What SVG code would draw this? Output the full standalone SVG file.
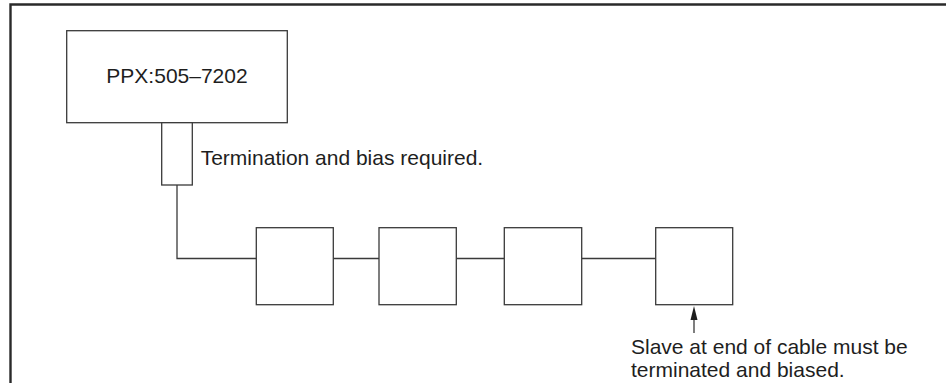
<svg xmlns="http://www.w3.org/2000/svg" width="946" height="383" viewBox="0 0 946 383">
<style>
.frame{fill:none;stroke:#2a2a2a;stroke-width:2.4}
.box{fill:#fff;stroke:#3a3a3a;stroke-width:1.3}
.wire{fill:none;stroke:#3a3a3a;stroke-width:1.3}
.lbl{font-family:"Liberation Sans",Arial,sans-serif;font-size:21px;fill:#1e1e1e}
</style>
<defs>
<marker id="ah" markerWidth="8" markerHeight="15" refX="4" refY="0.5" orient="auto" markerUnits="userSpaceOnUse" viewBox="0 0 8 15">
<path d="M0,14 L4,0 L8,14 Z" fill="#1e1e1e"/>
</marker>
</defs>
<path class="frame" d="M10.5,383 V4.5 H946"/>
<g id="connectors">
<path class="wire" d="M177,185 V258.5 H256.3"/>
<path class="wire" d="M333.3,258.5 H379"/>
<path class="wire" d="M456.3,258.5 H504.3"/>
<path class="wire" d="M581.7,258.5 H655.7"/>
<path class="wire" d="M694,333 V320" />
<path d="M690.5,320 L694,306 L697.5,320 Z" fill="#1e1e1e"/>
</g>
<g id="ppx">
<rect class="box" x="66.7" y="30.7" width="220.6" height="92"/>
<text class="lbl" x="177" y="82.7" text-anchor="middle">PPX:505–7202</text>
</g>
<g id="terminator">
<rect class="box" x="161.7" y="122.7" width="30.6" height="62.3"/>
<text class="lbl" x="200.7" y="165">Termination and bias required.</text>
</g>
<g id="slave1"><rect class="box" x="256.3" y="227.7" width="77" height="77"/></g>
<g id="slave2"><rect class="box" x="379" y="227.7" width="77.3" height="77"/></g>
<g id="slave3"><rect class="box" x="504.3" y="227.7" width="77.4" height="77"/></g>
<g id="slave4"><rect class="box" x="655.7" y="227.7" width="77" height="77"/></g>
<g id="note">
<text class="lbl" x="631" y="354">Slave at end of cable must be</text>
<text class="lbl" x="631" y="376.7">terminated and biased.</text>
</g>
</svg>
